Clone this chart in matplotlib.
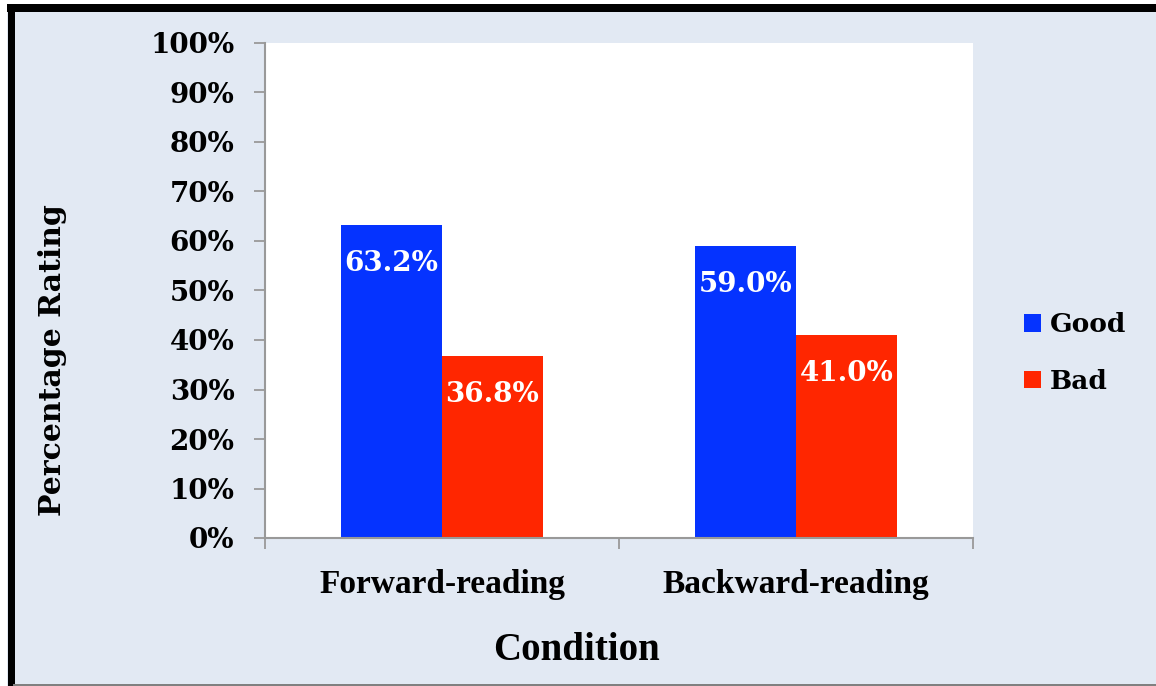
import numpy as np
import matplotlib.pyplot as plt
from matplotlib.patches import Rectangle
from matplotlib.lines import Line2D

conditions = ["Forward-reading", "Backward-reading"]
good = [63.2, 59.0]
bad = [36.8, 41.0]
yticks = [0, 10, 20, 30, 40, 50, 60, 70, 80, 90, 100]

W, H = 1156, 686
fig = plt.figure(figsize=(W / 100, H / 100), dpi=100)
fig.patch.set_facecolor("white")

# panel background with heavy black frame on top/left
fig.patches.append(Rectangle((7 / W, 0), 1, (H - 4) / H, transform=fig.transFigure,
                             facecolor="#E2E9F3", edgecolor="none", zorder=-2))
fig.lines.append(Line2D([7 / W, 1], [1 - 8 / H, 1 - 8 / H], transform=fig.transFigure,
                        color="black", lw=8 * 0.72, solid_capstyle="butt"))
fig.lines.append(Line2D([10.5 / W, 10.5 / W], [0, 1 - 4 / H], transform=fig.transFigure,
                        color="black", lw=7 * 0.72, solid_capstyle="butt"))
fig.lines.append(Line2D([14 / W, 1], [1 / H, 1 / H], transform=fig.transFigure,
                        color="#808080", lw=2 * 0.72))

ax = fig.add_axes([265 / W, 148 / H, 708 / W, 495 / H])
ax.set_facecolor("white")

x = np.arange(len(conditions))
w = 0.285
b1 = ax.bar(x - w / 2, good, w, color="#0533FF", label="Good", zorder=2)
b2 = ax.bar(x + w / 2, bad, w, color="#FF2600", label="Bad", zorder=2)

lab_font = dict(family="DejaVu Serif", weight="bold", size=20)
for bars, vals in ((b1, good), (b2, bad)):
    for r, v in zip(bars, vals):
        ax.text(r.get_x() + r.get_width() / 2, v - 5.0, f"{v:.1f}%",
                ha="center", va="top", color="white", zorder=3, **lab_font)

ax.set_xlim(-0.5, len(conditions) - 0.5)
ax.set_ylim(0, 100)
ax.set_yticks(yticks)
ax.set_yticklabels([f"{t}%" for t in yticks], **lab_font)
ax.set_xticks(x)
ax.set_xticklabels(conditions, family="Liberation Serif", weight="bold", size=24)
ax.set_xticks(np.arange(-0.5, len(conditions)), minor=True)
ax.tick_params(axis="x", which="major", length=0, pad=22)
ax.tick_params(axis="x", which="minor", length=8, color="#999999", width=1.3)
ax.tick_params(axis="y", length=8, color="#999999", width=1.3, pad=14)

for s in ("top", "right"):
    ax.spines[s].set_visible(False)
for s in ("left", "bottom"):
    ax.spines[s].set_color("#999999")
    ax.spines[s].set_linewidth(1.5)

ax.set_ylabel("Percentage Rating", family="DejaVu Serif", weight="bold", size=21.5)
ax.yaxis.set_label_coords(-0.279, 0.36)
ax.set_xlabel("Condition", family="Liberation Serif", weight="bold", size=28)
ax.xaxis.set_label_coords(0.44, -0.19)

fig.legend(handles=[b1, b2], loc="center left", bbox_to_anchor=(1000 / W, 1 - 353 / H),
           frameon=False, prop=dict(family="DejaVu Serif", weight="bold", size=19),
           handlelength=0.65, handleheight=0.65, handletextpad=0.35, labelspacing=1.2)

fig.savefig("out.png", dpi=100)
